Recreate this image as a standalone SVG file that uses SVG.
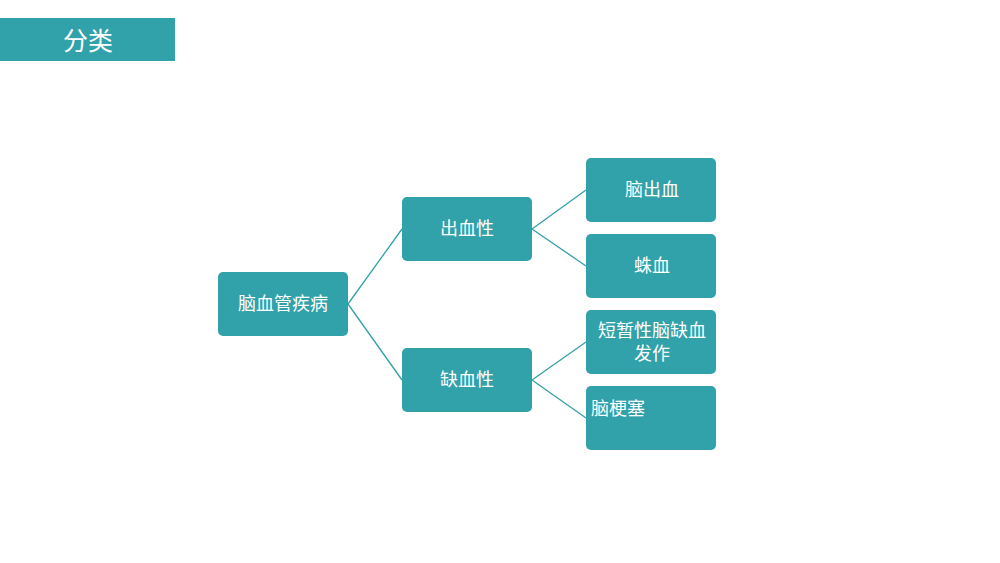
<svg xmlns="http://www.w3.org/2000/svg" width="1000" height="563" viewBox="0 0 1000 563">
<style>
.n{fill:#31a1aa}
.t{fill:#fff;font-family:"Noto Sans CJK SC",sans-serif;font-size:18px;text-anchor:middle}
.c{stroke:#31a1aa;stroke-width:1.3;fill:none}
</style>
<rect width="1000" height="563" fill="#fff"/>
<g id="title"><rect x="0" y="18" width="175" height="43" class="n"/><text x="88" y="50" class="t" style="font-size:25px">分类</text></g>
<g id="connectors">
<path class="c" d="M348 304L402 229M348 304L402 380M532 229L586 190M532 229L586 266M532 380L586 342M532 380L586 418"/>
</g>
<g id="n1"><rect x="218" y="272" width="130" height="64" rx="5" class="n"/><text x="283" y="310" class="t">脑血管疾病</text></g>
<g id="n2"><rect x="402" y="197" width="130" height="64" rx="5" class="n"/><text x="467" y="235" class="t">出血性</text></g>
<g id="n3"><rect x="402" y="348" width="130" height="64" rx="5" class="n"/><text x="467" y="386" class="t">缺血性</text></g>
<g id="n4"><rect x="586" y="158" width="130" height="64" rx="5" class="n"/><text x="652" y="196" class="t">脑出血</text></g>
<g id="n5"><rect x="586" y="234" width="130" height="64" rx="5" class="n"/><text x="652" y="272" class="t">蛛血</text></g>
<g id="n6"><rect x="586" y="310" width="130" height="64" rx="5" class="n"/><text x="652" y="337" class="t">短暂性脑缺血</text><text x="652" y="360" class="t">发作</text></g>
<g id="n7"><rect x="586" y="386" width="130" height="64" rx="5" class="n"/><text x="591" y="415" class="t" style="text-anchor:start">脑梗塞</text></g>
</svg>
